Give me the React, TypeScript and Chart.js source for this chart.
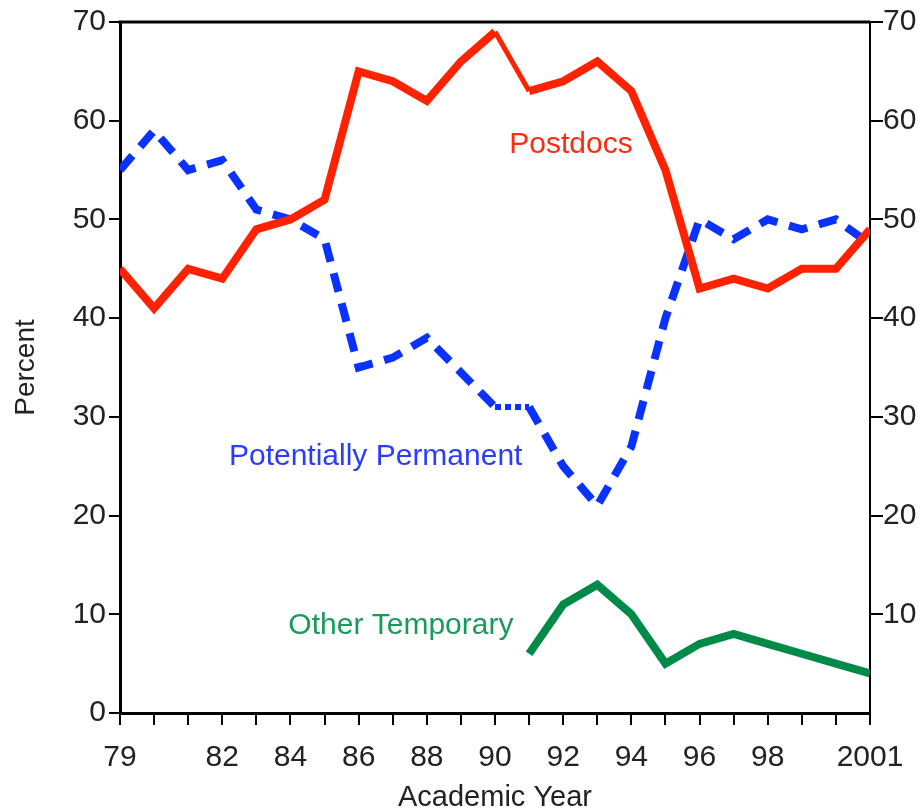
import React, { useEffect, useRef } from 'react';
import { Chart, registerables } from 'chart.js';

Chart.register(...registerables);

const years = [1979, 1980, 1981, 1982, 1983, 1984, 1985, 1986, 1987, 1988, 1989, 1990, 1991, 1992, 1993, 1994, 1995, 1996, 1997, 1998, 1999, 2000, 2001];
const postdocs = [45, 41, 45, 44, 49, 50, 52, 65, 64, 62, 66, 69, 63, 64, 66, 63, 55, 43, 44, 43, 45, 45, 49];
const potentiallyPermanent = [55, 59, 55, 56, 51, 50, 48, 35, 36, 38, 34.5, 31, 31, 25, 21, 27, 40, 50, 48, 50, 49, 50, 47.5];
const otherTemporary: (number | null)[] = [null, null, null, null, null, null, null, null, null, null, null, null, 6, 11, 13, 10, 5, 7, 8, 7, 6, 5, 4];
const labeledYears = [1979, 1982, 1984, 1986, 1988, 1990, 1992, 1994, 1996, 1998, 2001];
const yTicks = [0, 10, 20, 30, 40, 50, 60, 70];

const seriesLabels = [
  { text: 'Postdocs', x: 1992.23, y: 57.6, color: '#ff2a10' },
  { text: 'Potentially Permanent', x: 1986.5, y: 26.0, color: '#2a3cff' },
  { text: 'Other Temporary', x: 1987.24, y: 8.8, color: '#1a9a5a' },
];

const FONT = '"Liberation Sans", Arial, sans-serif';
const RED = '#ff2200';
const BLUE = '#0a32ff';
const GREEN = '#008a48';

const pts = (vals: (number | null)[]) => years.map((x, i) => ({ x, y: vals[i] }));

export default function App() {
  const ref = useRef<HTMLCanvasElement | null>(null);
  useEffect(() => {
    if (!ref.current) return;
    const framePlugin = {
      id: 'frameAndLabels',
      afterDatasetsDraw(chart: any) {
        const { ctx, chartArea, scales } = chart;
        ctx.save();
        ctx.strokeStyle = '#000';
        ctx.lineWidth = 3;
        ctx.beginPath();
        ctx.moveTo(chartArea.left - 1.5, chartArea.top);
        ctx.lineTo(chartArea.right, chartArea.top);
        ctx.stroke();
        ctx.font = `30px ${FONT}`;
        ctx.textAlign = 'center';
        ctx.textBaseline = 'middle';
        for (const l of seriesLabels) {
          ctx.fillStyle = l.color;
          ctx.fillText(l.text, scales.x.getPixelForValue(l.x), scales.y.getPixelForValue(l.y));
        }
        ctx.restore();
      },
    };
    const chart = new Chart(ref.current, {
      type: 'line',
      data: {
        datasets: [
          {
            label: 'Postdocs',
            data: pts(postdocs),
            borderColor: RED,
            borderWidth: 8,
            pointRadius: 0,
            tension: 0,
            borderJoinStyle: 'miter',
            order: 1,
            segment: {
              borderWidth: (c: any) => (c.p0DataIndex === 11 ? 5 : undefined),
            },
          },
          {
            label: 'Potentially Permanent',
            data: pts(potentiallyPermanent),
            borderColor: BLUE,
            borderWidth: 8,
            borderDash: [19, 12],
            pointRadius: 0,
            tension: 0,
            order: 2,
            segment: {
              borderDash: (c: any) => (c.p0DataIndex === 11 ? [6, 4] : undefined),
              borderWidth: (c: any) => (c.p0DataIndex === 11 ? 6 : undefined),
            },
          },
          {
            label: 'Other Temporary',
            data: pts(otherTemporary),
            borderColor: GREEN,
            borderWidth: 8,
            pointRadius: 0,
            tension: 0,
            spanGaps: false,
            order: 3,
          },
        ],
      },
      options: {
        responsive: false,
        animation: false,
        layout: { padding: { top: 22, left: 0, right: 0, bottom: 0 } },
        plugins: { legend: { display: false }, tooltip: { enabled: false } },
        scales: {
          x: {
            type: 'linear',
            min: 1979,
            max: 2001,
            afterBuildTicks: (s: any) => {
              s.ticks = years.map((v) => ({ value: v }));
            },
            afterFit: (s: any) => {
              s.height = 99;
            },
            ticks: {
              autoSkip: false,
              maxRotation: 0,
              padding: 15,
              color: '#222',
              font: { family: FONT, size: 30 },
              callback: (v: any) => {
                const n = Number(v);
                if (!labeledYears.includes(n)) return '';
                return n === 2001 ? '2001' : String(n % 100);
              },
            },
            grid: { drawOnChartArea: false, drawTicks: true, tickLength: 12, color: '#000', lineWidth: 2 },
            border: { display: true, color: '#000', width: 3 },
            title: {
              display: true,
              text: 'Academic Year',
              color: '#222',
              font: { family: FONT, size: 29, lineHeight: 1 },
              padding: { top: 0, bottom: 0 },
            },
          },
          y: {
            position: 'left',
            min: 0,
            max: 70,
            afterBuildTicks: (s: any) => {
              s.ticks = yTicks.map((v) => ({ value: v }));
            },
            afterFit: (s: any) => {
              s.width = 120;
            },
            ticks: { padding: 3, color: '#222', font: { family: FONT, size: 30 } },
            grid: { drawOnChartArea: false, drawTicks: true, tickLength: 11, color: '#000', lineWidth: 2 },
            border: { display: true, color: '#000', width: 3 },
            title: {
              display: true,
              text: 'Percent',
              color: '#222',
              font: { family: FONT, size: 28, lineHeight: 1 },
              padding: { top: 12, bottom: 0 },
            },
          },
          y2: {
            position: 'right',
            min: 0,
            max: 70,
            afterBuildTicks: (s: any) => {
              s.ticks = yTicks.filter((v) => v > 0).map((v) => ({ value: v }));
            },
            afterFit: (s: any) => {
              s.width = 53;
            },
            ticks: { padding: 0, color: '#222', font: { family: FONT, size: 30 } },
            grid: { drawOnChartArea: false, drawTicks: true, tickLength: 13, color: '#000', lineWidth: 2 },
            border: { display: true, color: '#000', width: 2 },
          },
        },
      } as any,
      plugins: [framePlugin],
    });
    return () => chart.destroy();
  }, []);
  return (
    <canvas
      ref={ref}
      width={923}
      height={812}
      style={{ position: 'absolute', left: 0, top: 0, width: 923, height: 812, background: '#fff' }}
    />
  );
}
